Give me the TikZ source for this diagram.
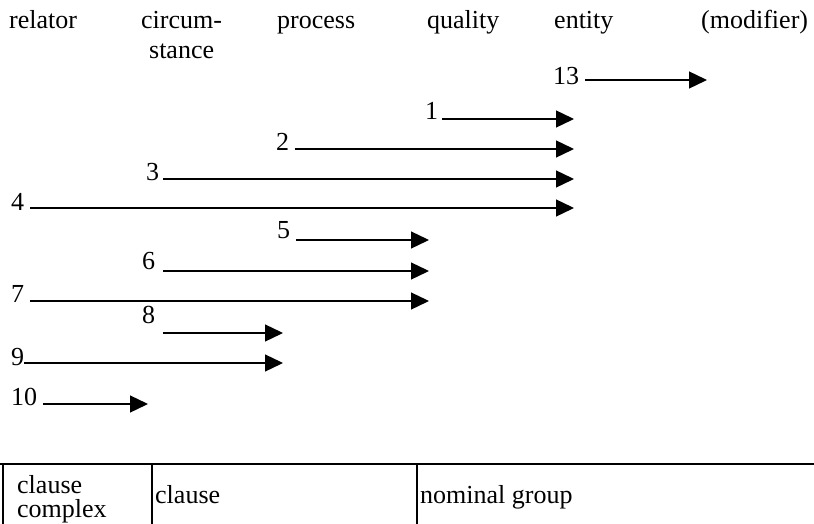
\documentclass[tikz,border=0pt]{standalone}
\usepackage{fontspec}
\setmainfont{Liberation Serif}
\usetikzlibrary{arrows.meta}

\tikzset{
  lbl/.style={inner sep=0pt, anchor=base west, font=\fontsize{26}{30}\selectfont},
  head/.style={lbl},
  num/.style={lbl},
  cell/.style={lbl, align=left, font=\fontsize{26}{24}\selectfont},
  arr/.style={line width=1.3pt, -{Triangle[length=18pt,width=17pt]}},
  rule/.style={line width=1.2pt}
}

\begin{document}
\begin{tikzpicture}[x=1pt,y=-1pt]
\useasboundingbox (0,0) rectangle (814,524);

% column headings (multi-line nodes are placed by their last baseline)
\node[head] (hrel) at (9,29) {relator};
\node[head, align=center, font=\fontsize{26}{30}\selectfont] (hcirc) at (141,59) {circum-\\stance};
\node[head] (hproc) at (277,29) {process};
\node[head] (hqual) at (427,29) {quality};
\node[head] (hent)  at (554,29) {entity};
\node[head] (hmod)  at (701,29) {(modifier)};

% numbered spans: label, start of line, arrow tip
\foreach \k/\lx/\ly/\sx/\sy/\ex in {
   13/553/85/585/80/707,
   1/425/120/442/119/574,
   2/276/150/295/149/574,
   3/146/180/163/179/574,
   4/11/210/30/208/574,
   5/277/238/296/240/429,
   6/142/269/163/271/429,
   7/11/302/30/301/429,
   8/142/323/163/333/283,
   9/11/365/24/363/283,
   10/11/405/43/404/148}{
  \node[num] (n\k) at (\lx,\ly) {\k};
  \coordinate (s\k) at (\sx,\sy);
  \coordinate (e\k) at (\ex,\sy);
  \draw[arr] (s\k) -- (e\k);
}

% rank scale table
\draw[rule] (0,464) -- (814,464);
\draw[rule] (3,464) -- (3,524);
\draw[rule] (152,464) -- (152,524);
\draw[rule] (417,464) -- (417,524);
\node[cell] (tcc) at (17,517) {clause\\complex};
\node[cell] (tcl) at (155,503) {clause};
\node[cell] (tng) at (420,503) {nominal group};
\end{tikzpicture}
\end{document}
